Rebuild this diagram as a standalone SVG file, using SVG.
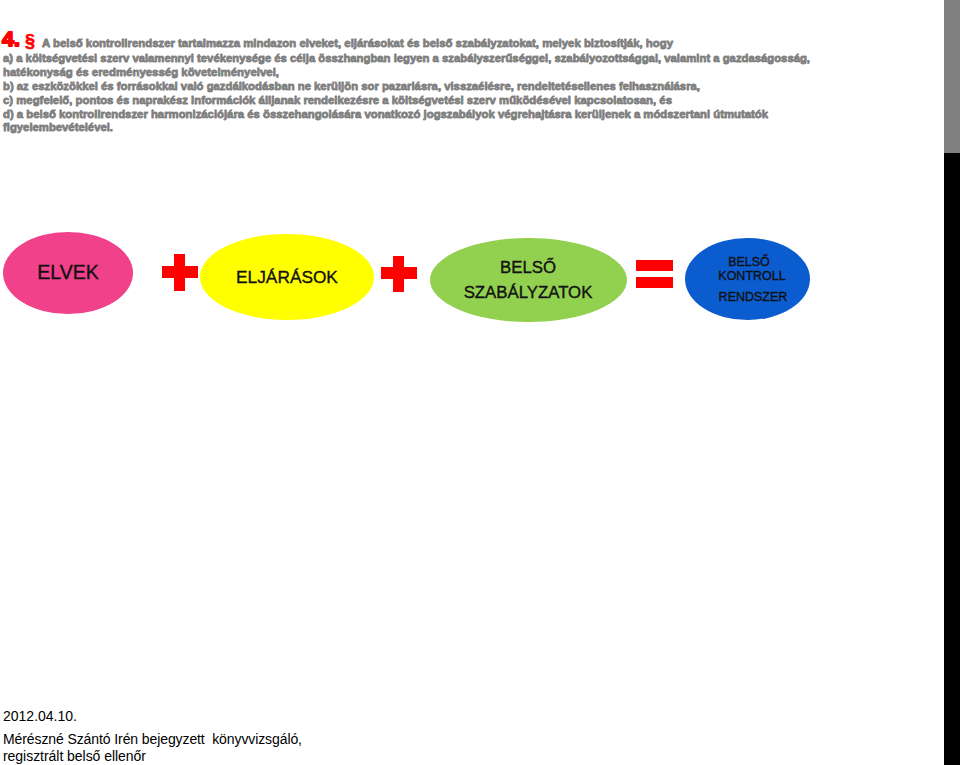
<svg xmlns="http://www.w3.org/2000/svg" width="960" height="765" viewBox="0 0 960 765">
<style>
.hd{font-family:"Liberation Sans",Arial,sans-serif;font-weight:bold;font-size:11.5px;fill:#7f7f7f;stroke:#7f7f7f;stroke-width:0.8;stroke-linejoin:round}
.red{font-family:"Liberation Sans",Arial,sans-serif;font-weight:bold;fill:#ff0000;stroke:#ff0000;stroke-linejoin:round}
.lbl{font-family:"Liberation Sans",Arial,sans-serif;fill:#111111;stroke:#111111;stroke-width:0.35;text-anchor:middle}
.ft{font-family:"Liberation Sans",Arial,sans-serif;font-size:14px;fill:#000000}
.op{fill:#ff0000}
</style>
<rect x="0" y="0" width="960" height="765" fill="#ffffff"/>
<rect x="944" y="0" width="16" height="153" fill="#808080"/>
<rect x="944" y="153" width="16" height="612" fill="#000000"/>

<g id="header">
<text class="red" x="2" y="46" font-size="20.5" stroke-width="1.8" textLength="18" lengthAdjust="spacingAndGlyphs">4.</text>
<text class="red" x="25" y="47" font-size="18" stroke-width="0.6">§</text>
<text class="hd" x="42" y="47" textLength="631" lengthAdjust="spacingAndGlyphs">A belső kontrollrendszer tartalmazza mindazon elveket, eljárásokat és belső szabályzatokat, melyek biztosítják, hogy</text>
<text class="hd" x="3" y="61.5" textLength="807" lengthAdjust="spacingAndGlyphs">a) a költségvetési szerv valamennyi tevékenysége és célja összhangban legyen a szabályszerűséggel, szabályozottsággal, valamint a gazdaságosság,</text>
<text class="hd" x="3" y="75.5" textLength="276" lengthAdjust="spacingAndGlyphs">hatékonyság és eredményesség követelményeivel,</text>
<text class="hd" x="3" y="89.5" textLength="697" lengthAdjust="spacingAndGlyphs">b) az eszközökkel és forrásokkal való gazdálkodásban ne kerüljön sor pazarlásra, visszaélésre, rendeltetésellenes felhasználásra,</text>
<text class="hd" x="3" y="103.5" textLength="669" lengthAdjust="spacingAndGlyphs">c) megfelelő, pontos és naprakész információk álljanak rendelkezésre a költségvetési szerv működésével kapcsolatosan, és</text>
<text class="hd" x="3" y="117.5" textLength="765" lengthAdjust="spacingAndGlyphs">d) a belső kontrollrendszer harmonizációjára és összehangolására vonatkozó jogszabályok végrehajtásra kerüljenek a módszertani útmutatók</text>
<text class="hd" x="3" y="131" textLength="110" lengthAdjust="spacingAndGlyphs">figyelembevételével.</text>
</g>

<g id="node-elvek">
<ellipse cx="68" cy="273" rx="65" ry="41" fill="#f0418a"/>
<text class="lbl" x="68" y="279" font-size="19.5">ELVEK</text>
</g>
<g id="node-eljarasok">
<ellipse cx="287" cy="277" rx="87" ry="43" fill="#ffff00"/>
<text class="lbl" x="287" y="283" font-size="17.3">ELJÁRÁSOK</text>
</g>
<g id="node-szabalyzatok">
<ellipse cx="528.5" cy="280" rx="98.5" ry="42" fill="#92d050"/>
<text class="lbl" x="528" y="273" font-size="16.8">BELSŐ</text>
<text class="lbl" x="528" y="298" font-size="16.8">SZABÁLYZATOK</text>
</g>
<g id="node-kontroll">
<ellipse cx="747.5" cy="279" rx="62.5" ry="41" fill="#0a5ccf"/>
<text class="lbl" x="749" y="266" font-size="12.5">BELSŐ</text>
<text class="lbl" x="752" y="280" font-size="12.5">KONTROLL</text>
<text class="lbl" x="753" y="301" font-size="12.5">RENDSZER</text>
</g>

<g id="connectors">
<rect class="op" x="162" y="266" width="36" height="12"/>
<rect class="op" x="174" y="254" width="11" height="37"/>
<rect class="op" x="381" y="267" width="36" height="12"/>
<rect class="op" x="393" y="256" width="11" height="36"/>
<rect class="op" x="636" y="260" width="37" height="11"/>
<rect class="op" x="636" y="277" width="37" height="11"/>
</g>

<g id="footer">
<text class="ft" x="3" y="721">2012.04.10.</text>
<text class="ft" x="3" y="744" xml:space="preserve" textLength="299" lengthAdjust="spacing">Mérészné Szántó Irén bejegyzett  könyvvizsgáló,</text>
<text class="ft" x="3" y="761" textLength="143" lengthAdjust="spacing">regisztrált belső ellenőr</text>
</g>
</svg>
